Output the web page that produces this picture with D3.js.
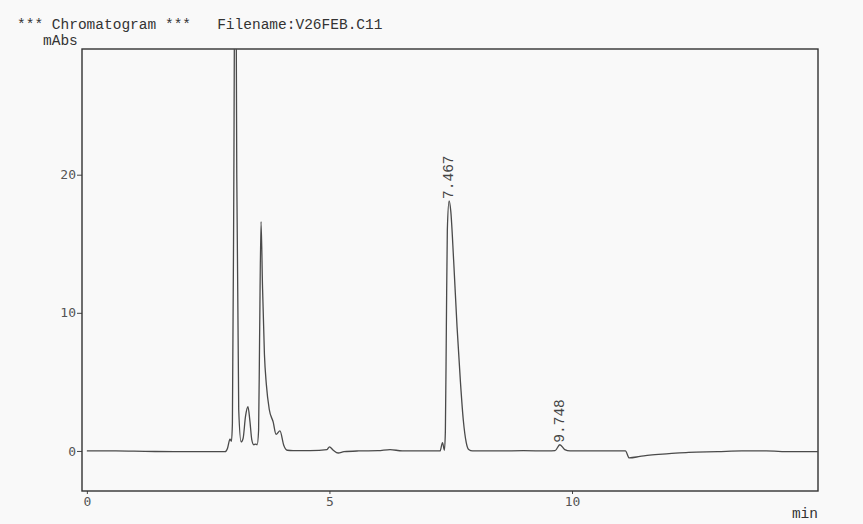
<!DOCTYPE html>
<html>
<head>
<meta charset="utf-8">
<script src="https://cdn.jsdelivr.net/npm/d3@7"></script>
<style>
  body { margin: 0; background: #f9f9f9; }
  svg { display: block; }
</style>
</head>
<body>
<script>
// chromatogram trace (min, mAbs)
const times = [0.00, 0.60, 1.20, 1.80, 2.40, 2.85, 2.90, 2.95, 2.98, 3.00,
  3.03, 3.06, 3.09, 3.13, 3.18, 3.22, 3.27, 3.32, 3.36, 3.40,
  3.44, 3.48, 3.51, 3.54, 3.56, 3.59, 3.62, 3.66, 3.70, 3.76,
  3.84, 3.90, 3.98, 4.06, 4.13, 4.25, 4.60, 4.95, 5.00, 5.08,
  5.18, 5.30, 5.60, 6.00, 6.25, 6.50, 7.00, 7.28, 7.33, 7.37,
  7.39, 7.41, 7.43, 7.467, 7.50, 7.56, 7.63, 7.70, 7.76, 7.82,
  7.87, 7.95, 8.50, 9.00, 9.50, 9.65, 9.748, 9.85, 9.96, 10.50,
  11.10, 11.18, 11.40, 11.60, 12.00, 12.40, 13.00, 13.50, 14.00, 14.50, 15.07];
const values = [0.00, 0.00, -0.03, -0.05, -0.05, -0.05, 0.2, 0.85, 0.7, 2.0,
  20, 45, 20, 3, 0.65, 0.9, 2.5, 3.2, 2.2, 0.8,
  0.45, 0.5, 0.45, 1.5, 8, 16.6, 12, 7, 4.8, 3.0,
  2.1, 1.2, 1.45, 0.4, 0.05, 0.02, 0.03, 0.1, 0.3, 0.05,
  -0.15, -0.05, 0.0, 0.02, 0.1, 0.0, 0.0, 0.0, 0.6, 0.05,
  1.5, 9, 16, 18.1, 17.4, 13.8, 9, 5, 2.2, 0.6,
  0.1, 0.0, 0.0, 0.02, 0.0, 0.02, 0.45, 0.1, 0.0, 0.0,
  0.0, -0.5, -0.4, -0.3, -0.2, -0.1, -0.05, 0.0, 0.0, -0.05, -0.05];

const peakTimes = [7.467, 9.748];
const peakLabels = ["7.467", "9.748"];
const xTicks = [0, 5, 10];
const yTicks = [0, 10, 20];

const width = 863, height = 524;
const box = {left: 82, top: 49, right: 818, bottom: 491};

const svg = d3.select("body").append("svg")
  .attr("width", width)
  .attr("height", height);

const xscale = d3.scaleLinear().domain([-0.1, 15.07]).range([box.left, box.right]);
const yscale = d3.scaleLinear().domain([-2.9, 29.1]).range([box.bottom, box.top]);

const data = times.map((t, i) => ({t: t, v: values[i]}));

svg.append("clipPath").attr("id", "plot")
  .append("rect")
  .attr("x", box.left).attr("y", box.top)
  .attr("width", box.right - box.left).attr("height", box.bottom - box.top);

// header texts
const mono = "'Liberation Mono', 'Courier New', monospace";
svg.append("text")
  .attr("x", 17).attr("y", 29)
  .attr("font-family", mono).attr("font-size", 14.5).attr("fill", "#333")
  .style("white-space", "pre")
  .text("*** Chromatogram ***   Filename:V26FEB.C11");

svg.append("text")
  .attr("x", 43).attr("y", 45)
  .attr("font-family", mono).attr("font-size", 14.5).attr("fill", "#333")
  .text("mAbs");

svg.append("text")
  .attr("x", 818).attr("y", 518)
  .attr("text-anchor", "end")
  .attr("font-family", mono).attr("font-size", 14.5).attr("fill", "#333")
  .text("min");

// axes
const yaxis = d3.axisLeft(yscale).tickValues(yTicks).tickSize(5).tickPadding(1);
const xaxis = d3.axisBottom(xscale).tickValues(xTicks).tickSize(3).tickPadding(3);

const gy = svg.append("g").attr("transform", `translate(${box.left},0)`).call(yaxis);
const gx = svg.append("g").attr("transform", `translate(0,${box.bottom})`).call(xaxis);

[gy, gx].forEach(g => {
  g.select(".domain").remove();
  g.selectAll("line").attr("stroke", "#444");
  g.selectAll("text")
    .attr("font-family", "'DejaVu Sans Mono', monospace")
    .attr("font-size", 13)
    .attr("fill", "#555");
});

// frame
svg.append("rect")
  .attr("x", box.left).attr("y", box.top)
  .attr("width", box.right - box.left).attr("height", box.bottom - box.top)
  .attr("fill", "none")
  .attr("stroke", "#333")
  .attr("stroke-width", 1.4);

// trace
const line = d3.line()
  .x(d => xscale(d.t))
  .y(d => yscale(d.v))
  .curve(d3.curveMonotoneX);

svg.append("path")
  .datum(data)
  .attr("clip-path", "url(#plot)")
  .attr("d", line)
  .attr("fill", "none")
  .attr("stroke", "#4a4a4a")
  .attr("stroke-width", 1.3);

// peak labels
peakTimes.forEach((t, i) => {
  const v = values[times.indexOf(t)];
  svg.append("text")
    .attr("transform", `translate(${xscale(t) + 4},${yscale(v) - 2}) rotate(-90)`)
    .attr("font-family", mono)
    .attr("font-size", 14.5)
    .attr("fill", "#444")
    .text(peakLabels[i]);
});
</script>
</body>
</html>
